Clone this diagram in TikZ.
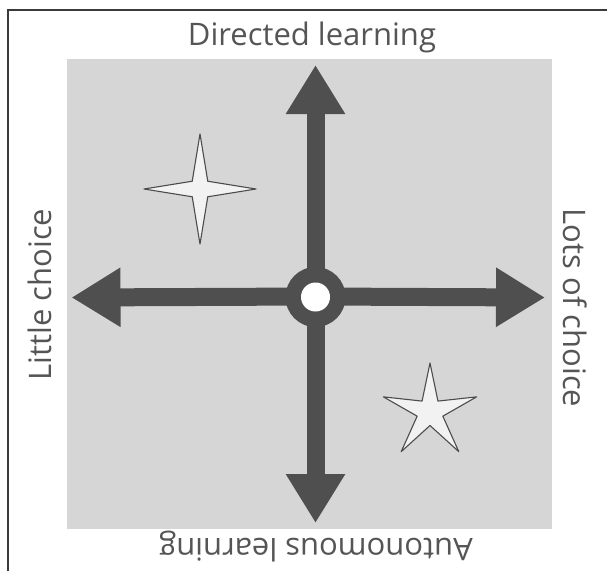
\documentclass[tikz,border=0pt]{standalone}
\usepackage{fontspec}
\setmainfont{Open Sans}
\usetikzlibrary{arrows.meta}
\definecolor{bg}{HTML}{D6D6D6}
\definecolor{ar}{HTML}{4F4F4F}
\definecolor{tx}{HTML}{555555}
\definecolor{starfill}{HTML}{F2F2F2}
\definecolor{frame}{HTML}{3A3A3A}
\begin{document}
\begin{tikzpicture}[x=1pt,y=-1pt,
  axis/.style={draw=ar, line width=18pt, -{Triangle[length=49pt,width=56pt]}},
  lbl/.style={text=tx, font=\fontsize{31}{36}\selectfont, inner sep=0pt},
  starst/.style={draw=black!70, fill=starfill, line width=1.1pt, line join=round}]
\useasboundingbox (0,0) rectangle (607,571);
\fill[white] (0,0) rectangle (607,571);
\draw[line width=1.5pt, draw=frame] (8,571) -- (8,10) -- (607,10);
\node[fill=bg, minimum width=485pt, minimum height=470pt, inner sep=0pt, anchor=north west] (sq) at (67,59) {};
% axis end points
\coordinate (c) at (315.5,297);
\coordinate (tN) at (315.5,65);
\coordinate (tS) at (315.5,523);
\coordinate (tW) at (71.5,297.5);
\coordinate (tE) at (545,297.5);
\draw[axis] (c) -- (tN);
\draw[axis] (c) -- (tS);
\draw[axis] ([yshift=0.5pt]c) -- (tW);
\draw[axis] ([yshift=0.5pt]c) -- (tE);
\node[circle, fill=ar, minimum size=60pt, inner sep=0pt] (hub) at (c) {};
\node[circle, fill=white, minimum size=29pt, inner sep=0pt] (hubin) at (c) {};
% stars
\draw[starst] plot[samples at={0,...,7}] ({200+ifthenelse(mod(\x,2)==0,56,11)*cos(45*\x)}, {189-ifthenelse(mod(\x,2)==0,55,11)*sin(45*\x)}) -- cycle;
\draw[starst] plot[samples at={0,...,9}] ({430+ifthenelse(mod(\x,2)==0,49,13.5)*cos(90+36*\x)}, {412-ifthenelse(mod(\x,2)==0,49,13.5)*sin(90+36*\x)}) -- cycle;
% labels
\node[lbl] (top) at (312,37.5) {Directed learning};
\node[lbl, rotate=180] (bot) at (316,547) {Autonomous learning};
\node[lbl, rotate=90] (lft) at (40,294.5) {Little choice};
\node[lbl, rotate=-90] (rgt) at (575,308) {Lots of choice};
\end{tikzpicture}
\end{document}
